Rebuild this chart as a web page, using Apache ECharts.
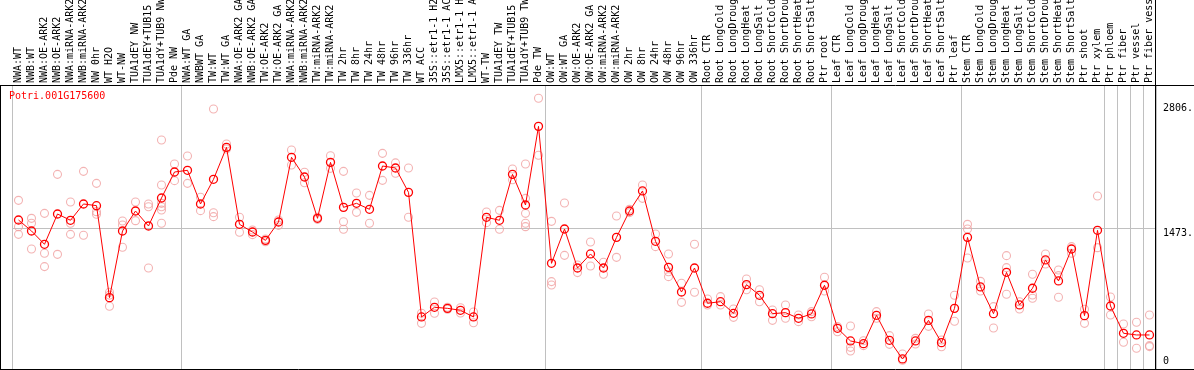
<!DOCTYPE html>
<html><head><meta charset="utf-8">
<script src="https://cdn.jsdelivr.net/npm/echarts@6/dist/echarts.min.js"></script>
<style>html,body{margin:0;padding:0;background:#fff}#c{width:1194px;height:370px}</style>
</head><body><div id="c"></div>
<script>
const geneId = 'Potri.001G175600';
const categories = [
 'NWA:WT','NWB:WT','NWA:OE-ARK2','NWB:OE-ARK2','NWA:miRNA-ARK2','NWB:miRNA-ARK2','NW 0hr','WT H2O','WT-NW',
 'TUA1dEY NW','TUA1dEY+TUB15 NW','TUA1dY+TUB9 NW','Pde NW',
 'NWA:WT GA','NWBWT GA','TW:WT','TW:WT GA','NWA:OE-ARK2 GA','NWB:OE-ARK2 GA','TW:OE-ARK2','TW:OE-ARK2 GA',
 'NWA:miRNA-ARK2 GA','NWB:miRNA-ARK2 GA','TW:miRNA-ARK2','TW:miRNA-ARK2 GA',
 'TW 2hr','TW 8hr','TW 24hr','TW 48hr','TW 96hr','TW 336hr','WT ACC',
 '35S::etr1-1 H2O','35S::etr1-1 ACC','LMX5::etr1-1 H2O','LMX5::etr1-1 ACC','WT-TW',
 'TUA1dEY TW','TUA1dEY+TUB15 TW','TUA1dY+TUB9 TW','Pde TW',
 'OW:WT','OW:WT GA','OW:OE-ARK2','OW:OE-ARK2 GA','OW:miRNA-ARK2','OW:miRNA-ARK2 GA',
 'OW 2hr','OW 8hr','OW 24hr','OW 48hr','OW 96hr','OW 336hr',
 'Root CTR','Root LongCold','Root LongDrought','Root LongHeat','Root LongSalt',
 'Root ShortCold','Root ShortDrought','Root ShortHeat','Root ShortSalt','Ptr root',
 'Leaf CTR','Leaf LongCold','Leaf LongDrought','Leaf LongHeat','Leaf LongSalt',
 'Leaf ShortCold','Leaf ShortDrought','Leaf ShortHeat','Leaf ShortSalt','Ptr leaf',
 'Stem CTR','Stem LongCold','Stem LongDrought','Stem LongHeat','Stem LongSalt',
 'Stem ShortCold','Stem ShortDrought','Stem ShortHeat','Stem ShortSalt','Ptr shoot',
 'Ptr xylem','Ptr phloem','Ptr fiber','Ptr vessel','Ptr fiber vessel'
];
const means = [
 1561,1444,1302,1625,1558,1732,1714,733,1444,1657,1497,1796,2073,
 2091,1732,1995,2336,1515,1433,1344,1540,2230,2020,1579,2176,1696,1739,1675,2137,2116,1856,
 527,630,619,598,527,1590,1558,2048,1721,2560,
 1099,1465,1049,1199,1049,1376,1657,1871,1334,1056,793,1049,
 673,690,566,872,758,562,573,513,559,865,
 406,271,242,545,278,79,271,491,253,619,
 1376,847,562,1003,655,833,1135,911,1252,541,
 1451,644,353,335,335
];
const replicates = [
 [1771,1490,1408],[1579,1526,1252],[1632,1206,1064],[2048,1195],[1753,1526,1408],[2080,1398],
 [1952,1650,1622],[790,760,641],[1551,1508,1270],[1753,1554],[1732,1703,1049],
 [2414,1935,1739,1703,1668,1526],[2158,1981],
 [2244,1952],[1803,1661],[2745,1639,1597],[2372,2318],[1590,1430],[1455,1405],[1358,1330],
 [1561,1504],[2308,2148],[2070,1959],[1590,1568],[2247,2112],[2080,1543,1462],[1849,1643],
 [1824,1526],[2272,1984],[2060,2170],[2116,1590],
 [566,459],[687,566],[630,609],[626,570],[580,466],[1647,1533],[1664,1462],[2105,1991],
 [2158,1792,1632,1526,1490],[2859,2251],
 [1547,904,868],[1743,1184],[1081,1000],[1327,1071],[1110,982],[1604,1163],[1640,1675],
 [1935,1792],[1412,1277],[1199,1010,957],[886,683],[1302,790],
 [719,655],[744,655],[612,523],[932,818],[818,690],[601,491],[655,513],[548,477],[584,530],[950,804],
 [424,370],[431,203,164],[274,221],[584,513],[328,235],[132,65],[299,239],[559,427],[282,210],[758,481],
 [1515,1465,1156],[907,804],[637,410],[1181,1053,769],[690,612],[982,761,726],[1199,1092],
 [1028,968,737],[1277,1206],[609,459],
 [1817,1266],[740,548],[452,257],[470,193],[548,221,211]
];
const yTickValues = [0, 1473, 2806];
const refLineValue = 1473;
const separatorBefore = [0, 13, 41, 53, 63, 73, 84, 85, 86, 87];

const repPoints = [];
replicates.forEach((arr, i) => arr.forEach(v => repPoints.push([i, v])));

const FONT = 'DejaVu Sans Mono';
const sepFn = (idx) => separatorBefore.indexOf(idx) >= 0;

const chart = echarts.init(document.getElementById('c'), null, {renderer: 'canvas'});
chart.setOption({
  animation: false,
  backgroundColor: '#fff',
  title: {
    text: geneId, left: 9, top: 91, padding: 0,
    textStyle: {color: '#ff0000', fontFamily: FONT, fontSize: 10, fontWeight: 'normal'}
  },
  grid: {left: 12, right: 38, top: 85, bottom: 1, containLabel: false, outerBoundsMode: 'none'},
  xAxis: {
    type: 'category', data: categories, position: 'top', boundaryGap: true,
    axisLine: {show: false},
    axisTick: {show: true, interval: sepFn, length: 85, inside: false, lineStyle: {color: '#c0c0c0', width: 1}},
    splitLine: {show: true, interval: sepFn, lineStyle: {color: '#c0c0c0', width: 1}},
    axisLabel: {interval: 0, rotate: 90, margin: 2, color: '#000', fontFamily: FONT, fontSize: 10, hideOverlap: false}
  },
  yAxis: {
    type: 'value', position: 'right', min: -28, max: 3001,
    axisLine: {show: false}, axisTick: {show: false}, splitLine: {show: false},
    axisLabel: {
      customValues: yTickValues, margin: 7, color: '#000', fontFamily: FONT, fontSize: 10,
      showMinLabel: true, showMaxLabel: true,
      formatter: v => v === 0 ? '{b|0}' : '{t|' + v + '.}',
      rich: {
        t: {padding: [10, 0, 0, 0], fontFamily: FONT, fontSize: 10, color: '#000'},
        b: {padding: [0, 0, 9, 0], fontFamily: FONT, fontSize: 10, color: '#000'}
      }
    }
  },
  series: [
    {
      type: 'scatter', data: repPoints, symbol: 'circle', symbolSize: 8, z: 2,
      itemStyle: {color: 'rgba(255,255,255,0)', borderColor: '#f0a0a0', borderWidth: 1.1},
      silent: true
    },
    {
      type: 'line', data: means, symbol: 'circle', symbolSize: 8, z: 3,
      showAllSymbol: true,
      lineStyle: {color: '#ff0000', width: 1},
      itemStyle: {color: 'rgba(255,255,255,0)', borderColor: '#ff0000', borderWidth: 1.3},
      markLine: {
        silent: true, symbol: 'none', label: {show: false},
        lineStyle: {color: '#c0c0c0', type: 'solid', width: 1},
        data: [{yAxis: refLineValue}], z: 1
      }
    }
  ],
  graphic: [
    {type: 'line', shape: {x1: 0, y1: 85.5, x2: 1194, y2: 85.5}, style: {stroke: '#000', lineWidth: 1}, z: 100, silent: true},
    {type: 'line', shape: {x1: 0, y1: 369.5, x2: 1194, y2: 369.5}, style: {stroke: '#000', lineWidth: 1}, z: 100, silent: true},
    {type: 'line', shape: {x1: 0.5, y1: 85, x2: 0.5, y2: 370}, style: {stroke: '#000', lineWidth: 1}, z: 100, silent: true},
    {type: 'line', shape: {x1: 1155.5, y1: 0, x2: 1155.5, y2: 370}, style: {stroke: '#000', lineWidth: 1}, z: 100, silent: true}
  ]
});
</script></body></html>
